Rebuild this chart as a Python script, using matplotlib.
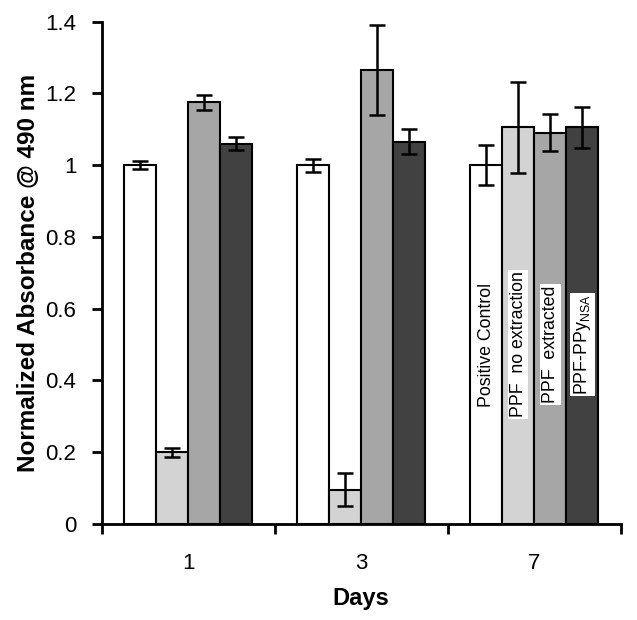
import matplotlib
matplotlib.use("Agg")
import matplotlib.pyplot as plt
import numpy as np
from matplotlib.ticker import FuncFormatter, FixedLocator

plt.rcParams['font.family'] = ['Liberation Sans', 'DejaVu Sans']

days = ["1", "3", "7"]
series = ["Positive Control", "PPF  no extraction", "PPF  extracted", "PPF-PPy$_{\\mathregular{NSA}}$"]
values = [
    [1.00, 1.00, 1.00],
    [0.20, 0.095, 1.105],
    [1.175, 1.265, 1.09],
    [1.06, 1.065, 1.105],
]
errors = [
    [0.010, 0.018, 0.055],
    [0.012, 0.046, 0.126],
    [0.021, 0.125, 0.052],
    [0.017, 0.035, 0.057],
]
colors = ["#ffffff", "#d3d3d3", "#a6a6a6", "#414141"]

fig = plt.figure(figsize=(6.37, 6.20), dpi=100)
ax = fig.add_axes([101.5/637, 1-524/620, (621-101.5)/637, (524-21.5)/620])

n = len(series)
w = 0.185
centers = np.arange(len(days)) + 0.5
for i in range(n):
    x = centers + (i - (n - 1) / 2) * w
    ax.bar(x, values[i], width=w, color=colors[i], edgecolor="black", linewidth=1.5, zorder=2)
    ax.errorbar(x, values[i], yerr=errors[i], fmt="none", ecolor="black",
                elinewidth=1.8, capsize=6, capthick=1.8, zorder=3)

# labels inside the day-7 bars
label_y = 0.5
for i in range(n):
    xi = centers[-1] + (i - (n - 1) / 2) * w
    kw = dict(rotation=90, ha="center", va="center", fontsize=12.8, zorder=4)
    if i > 0:
        kw["bbox"] = dict(facecolor="white", edgecolor="none", pad=1.2)
    ax.text(xi, label_y, series[i], **kw)

ax.set_xlim(0, len(days))
ax.set_ylim(0, 1.4)
ax.xaxis.set_major_locator(FixedLocator(np.arange(len(days) + 1)))
ax.xaxis.set_major_formatter(FuncFormatter(lambda v, p: ""))
ax.xaxis.set_minor_locator(FixedLocator(centers))
ax.set_xticklabels(days, minor=True)
ax.tick_params(axis="x", which="major", direction="out", length=7.5, width=2)
ax.tick_params(axis="x", which="minor", length=0, pad=21, labelsize=16)
ax.set_yticks(np.arange(0, 1.41, 0.2))
ax.yaxis.set_major_formatter(FuncFormatter(lambda v, p: "%g" % round(v, 2)))
ax.tick_params(axis="y", direction="out", length=7, width=2, labelsize=16, pad=11)

for s in ["top", "right"]:
    ax.spines[s].set_visible(False)
for s in ["left", "bottom"]:
    ax.spines[s].set_linewidth(2)

ax.set_ylabel("Normalized Absorbance @ 490 nm", fontsize=17.5, fontweight="bold", labelpad=4)
ax.set_xlabel("Days", fontsize=17, fontweight="bold", labelpad=9)

fig.savefig("out.png", dpi=100)
